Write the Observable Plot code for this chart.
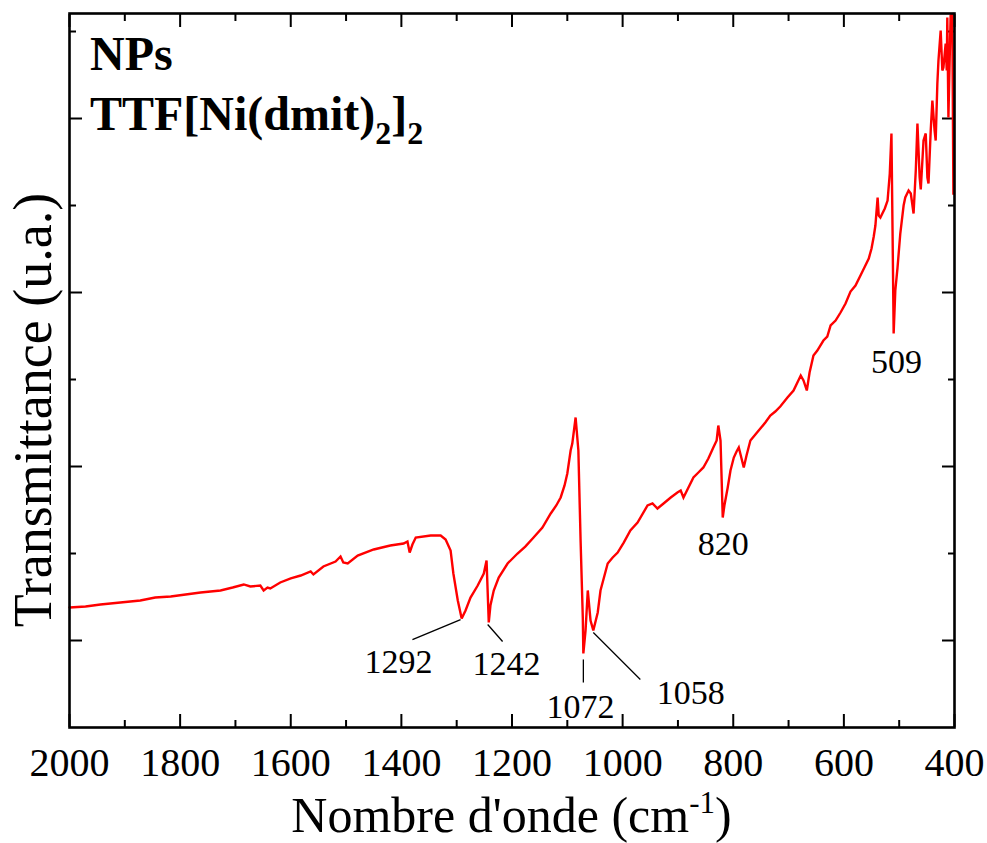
<!DOCTYPE html>
<html><head><meta charset="utf-8">
<script src="https://cdn.jsdelivr.net/npm/d3@7"></script>
<script src="https://cdn.jsdelivr.net/npm/@observablehq/plot@0.6"></script>
<style>body{margin:0;background:#fff} svg{display:block}</style>
</head><body><div id="chart"></div>
<script>
// Spectrum: wavenumber (cm-1) and transmittance (a.u.)
const wavenumber = [2000,1971,1944,1908,1872,1845,1817,1790,1763,1727,1705,1685,1673,1655,1649,1642,1637,1619,1600,1582,1564,1559,1541,1519,1510,1505,1497,1479,1450,1420,1396,1389,1385,1380,1374,1347,1329,1320,1311,1306,1298,1291,1284,1275,1262,1251,1246,1242,1239,1233,1224,1208,1190,1176,1161,1145,1130,1120,1112,1105,1100,1094,1091,1085,1080,1076,1072,1071,1067,1063,1058,1053,1045,1040,1027,1018,1009,998,986,973,955,946,937,926,913,901,895,890,881,872,863,854,845,836,830,827,823,819,816,810,805,799,794,790,785,781,776,769,760,751,742,733,724,715,702,691,678,673,667,662,655,648,637,630,624,615,606,597,588,579,570,562,555,550,546,543,539,537,534,526,521,517,514,512,510,507,503,498,492,489,483,479,474,470,467,463,461,456,452,449,447,443,440,436,434,431,429,425,422,420,416,414,413,411,407,404,402,401];
const transmittance = [13.79,13.91,14.14,14.37,14.60,14.94,15.06,15.29,15.52,15.75,16.09,16.44,16.21,16.32,15.75,16.09,15.98,16.67,17.13,17.47,17.93,17.59,18.51,19.08,19.66,18.97,18.85,19.77,20.46,20.92,21.15,21.38,20.11,21.03,21.84,22.07,22.07,21.61,20.34,17.70,14.60,12.53,13.45,14.94,16.32,17.70,19.20,12.07,14.02,15.75,17.24,18.85,20.00,20.80,21.84,22.99,24.60,25.52,26.44,27.82,29.20,31.84,32.64,35.63,31.84,21.49,12.64,8.51,11.15,15.75,12.30,11.15,13.22,15.75,18.85,19.54,20.11,21.26,22.64,23.56,25.52,25.75,25.17,25.75,26.44,27.01,27.24,26.44,27.59,28.74,29.31,29.89,30.92,32.18,32.99,34.71,32.99,24.14,25.52,27.59,29.54,31.03,31.72,32.18,30.92,29.89,31.26,32.99,33.68,34.37,35.06,35.86,36.32,36.90,37.93,38.74,40.46,39.89,38.74,40.80,42.76,43.33,44.48,44.94,46.21,46.78,47.70,48.74,50.11,50.80,51.95,52.99,53.91,55.06,56.44,57.70,60.92,58.85,58.62,59.66,60.57,63.68,68.28,57.13,45.29,50.23,52.87,56.78,60.00,60.92,61.72,61.38,59.08,64.02,69.43,63.22,61.84,67.47,68.28,63.22,62.53,68.62,72.07,68.62,67.47,74.02,76.67,80.11,75.52,75.86,78.62,75.52,81.61,70.11,81.84,81.95,61.38,61.38];

const xMajorTicks = [2000,1800,1600,1400,1200,1000,800,600,400];
const xMinorTicks = [1900,1700,1500,1300,1100,900,700,500];
const yMajorTicks = [10,30,50,70];
const yMinorTicks = [20,40,60,80];

const peakLabels = ["1292","1242","1072","1058","820","509"];
const peakLabelX = [1405,1210,1076,877,818,505];
const peakLabelY = [7.47,7.24,2.29,3.90,21.03,41.95];

const leaderX1 = [1293,1244,1071,1053];
const leaderY1 = [12.41,11.84,7.82,10.92];
const leaderX2 = [1380,1217,1071,968];
const leaderY2 = [10.11,9.89,5.17,5.52];

const spectrum = wavenumber.map((w, i) => ({w, t: transmittance[i]}));
const labels = peakLabels.map((s, i) => ({s, x: peakLabelX[i], y: peakLabelY[i]}));
const leaders = leaderX1.map((x1, i) => ({x1, y1: leaderY1[i], x2: leaderX2[i], y2: leaderY2[i]}));

const FONT = "'Liberation Serif', 'Times New Roman', serif";
const noText = () => "";

const chart = Plot.plot({
  width: 987,
  height: 843,
  marginLeft: 69,
  marginRight: 33,
  marginTop: 13,
  marginBottom: 116,
  style: {fontFamily: FONT, background: "white", color: "black"},
  x: {domain: [2000, 400]},
  y: {domain: [0, 82.07]},
  marks: [
    Plot.axisX({anchor: "bottom", ticks: xMajorTicks, tickSize: 0, tickPadding: 20, fontSize: 40, tickFormat: d => String(d), label: null}),
    Plot.axisX({anchor: "bottom", ticks: xMajorTicks, tickSize: -13, strokeWidth: 2, tickFormat: noText, label: null}),
    Plot.axisX({anchor: "bottom", ticks: xMinorTicks, tickSize: -7, strokeWidth: 2, tickFormat: noText, label: null}),
    Plot.axisX({anchor: "top", ticks: xMajorTicks, tickSize: -13, strokeWidth: 2, tickFormat: noText, label: null}),
    Plot.axisX({anchor: "top", ticks: xMinorTicks, tickSize: -7, strokeWidth: 2, tickFormat: noText, label: null}),
    Plot.axisY({anchor: "left", ticks: yMajorTicks, tickSize: -13, strokeWidth: 2, tickFormat: noText, label: null}),
    Plot.axisY({anchor: "left", ticks: yMinorTicks, tickSize: -7, strokeWidth: 2, tickFormat: noText, label: null}),
    Plot.axisY({anchor: "right", ticks: yMajorTicks, tickSize: -13, strokeWidth: 2, tickFormat: noText, label: null}),
    Plot.axisY({anchor: "right", ticks: yMinorTicks, tickSize: -7, strokeWidth: 2, tickFormat: noText, label: null}),
    Plot.line(spectrum, {x: "w", y: "t", stroke: "#ff0000", strokeWidth: 2.4, strokeLinejoin: "miter", strokeMiterlimit: 3}),
    Plot.link(leaders, {x1: "x1", y1: "y1", x2: "x2", y2: "y2", stroke: "black", strokeWidth: 1.3}),
    Plot.text(labels, {x: "x", y: "y", text: "s", fontSize: 34, fill: "black", fontFamily: FONT}),
    Plot.frame({stroke: "black", strokeWidth: 2.6})
  ]
});

document.getElementById("chart").appendChild(chart);

// Titles with sub/superscripts
const svg = d3.select(chart);
const xT = svg.append("text")
  .attr("x", (69 + 954) / 2).attr("y", 832)
  .attr("text-anchor", "middle")
  .style("font-family", FONT).style("font-size", "50px").attr("fill", "black");
xT.append("tspan").text("Nombre d'onde (cm");
xT.append("tspan").attr("dy", -19).style("font-size", "31px").text("-1");
xT.append("tspan").attr("dy", 19).text(")");

svg.append("text")
  .attr("transform", "translate(51,410) rotate(-90)")
  .attr("text-anchor", "middle")
  .style("font-family", FONT).style("font-size", "54px").attr("fill", "black")
  .text("Transmittance (u.a.)");

svg.append("text")
  .attr("x", 90).attr("y", 70)
  .attr("text-anchor", "start")
  .style("font-family", FONT).style("font-size", "48px").style("font-weight", "bold").attr("fill", "black")
  .text("NPs");

const tt = svg.append("text")
  .attr("x", 90).attr("y", 130)
  .attr("text-anchor", "start")
  .style("font-family", FONT).style("font-size", "48px").style("font-weight", "bold").attr("fill", "black");
tt.append("tspan").text("TTF[Ni(dmit)");
tt.append("tspan").attr("dy", 14).style("font-size", "32px").text("2");
tt.append("tspan").attr("dy", -14).text("]");
tt.append("tspan").attr("dy", 14).style("font-size", "32px").text("2");
</script>
</body></html>
